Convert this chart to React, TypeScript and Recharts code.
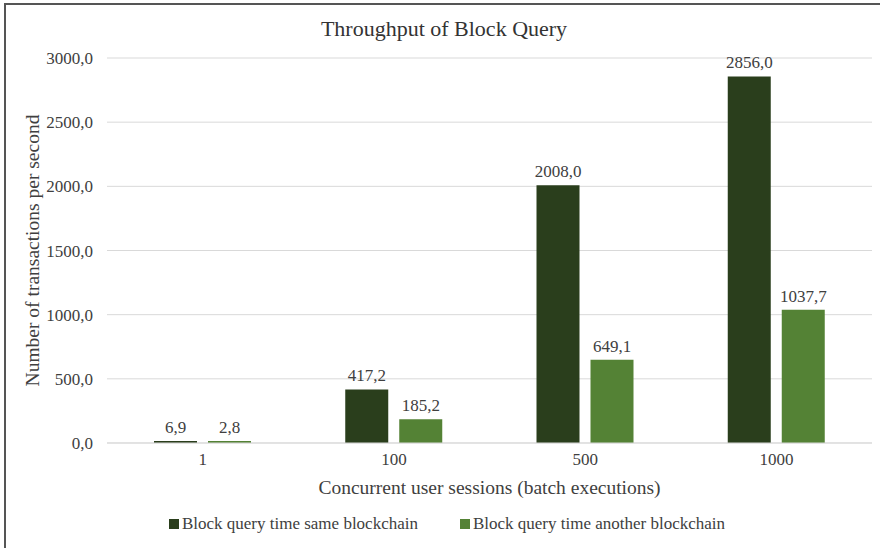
import { BarChart, Bar, XAxis, YAxis, CartesianGrid, Legend, LabelList } from "recharts";

const categories = ["1", "100", "500", "1000"];
const sameChain = [6.9, 417.2, 2008.0, 2856.0];
const anotherChain = [2.8, 185.2, 649.1, 1037.7];
const yTicks = [0, 500, 1000, 1500, 2000, 2500, 3000];

const seriesNames = ["Block query time same blockchain", "Block query time another blockchain"];
const colors = ["#2a3e1c", "#548235"];

const data = categories.map((c, i) => ({
  name: c,
  same: sameChain[i],
  another: anotherChain[i],
}));

const font = "Liberation Serif, Times New Roman, serif";
const textColor = "#404040";

const fmt = (v: number) => v.toFixed(1).replace(".", ",");

const LegendContent = () => (
  <div
    style={{
      display: "flex",
      justifyContent: "center",
      gap: 42,
      paddingLeft: 2,
      fontFamily: font,
      fontSize: 17,
      color: textColor,
    }}
  >
    {seriesNames.map((name, i) => (
      <div key={name} style={{ display: "flex", alignItems: "center", gap: 3 }}>
        <span style={{ width: 10, height: 10, background: colors[i], display: "inline-block" }} />
        <span>{name}</span>
      </div>
    ))}
  </div>
);

export default function App() {
  return (
    <div style={{ position: "absolute", left: 0, top: 0, width: 880, height: 548, overflow: "hidden", background: "#fff", fontFamily: font }}>
      <div
        style={{
          position: "absolute",
          left: 4,
          top: 3,
          width: 900,
          height: 600,
          border: "2px solid #555",
        }}
      />
      <div
        style={{
          position: "absolute",
          left: 0,
          width: 888,
          top: 16,
          textAlign: "center",
          fontFamily: font,
          fontSize: 22,
          color: "#333",
        }}
      >
        Throughput of Block Query
      </div>
      <div style={{ position: "absolute", left: 0, top: 0 }}>
        <BarChart
          width={880}
          height={548}
          data={data}
          margin={{ top: 58, right: 8, left: 20, bottom: 4 }}
          barSize={43}
          barGap={11}
          style={{ fontFamily: font }}
        >
          <CartesianGrid vertical={false} stroke="#d9d9d9" />
          <XAxis
            dataKey="name"
            height={71}
            axisLine={{ stroke: "#d9d9d9" }}
            tickLine={false}
            tickMargin={4}
            tick={{ fill: textColor, fontSize: 17, fontFamily: font }}
            label={{
              value: "Concurrent user sessions (batch executions)",
              position: "insideBottom",
              offset: 20,
              fill: textColor,
              fontSize: 19.5,
              fontFamily: font,
            }}
          />
          <YAxis
            width={87}
            domain={[0, 3000]}
            ticks={yTicks}
            axisLine={false}
            tickLine={false}
            tickMargin={8}
            tickFormatter={fmt}
            tick={{ fill: textColor, fontSize: 17, fontFamily: font }}
            label={{
              value: "Number of transactions per second",
              angle: -90,
              position: "insideLeft",
              offset: 12,
              style: { textAnchor: "middle" },
              fill: textColor,
              fontSize: 19.5,
              fontFamily: font,
            }}
          />
          <Legend verticalAlign="bottom" height={30} content={<LegendContent />} />
          <Bar dataKey="same" name={seriesNames[0]} fill={colors[0]} minPointSize={2} isAnimationActive={false}>
            <LabelList
              dataKey="same"
              position="top"
              offset={8}
              formatter={(v: number) => fmt(v)}
              style={{ fill: textColor, fontSize: 17, fontFamily: font }}
            />
          </Bar>
          <Bar dataKey="another" name={seriesNames[1]} fill={colors[1]} minPointSize={2} isAnimationActive={false}>
            <LabelList
              dataKey="another"
              position="top"
              offset={8}
              formatter={(v: number) => fmt(v)}
              style={{ fill: textColor, fontSize: 17, fontFamily: font }}
            />
          </Bar>
        </BarChart>
      </div>
    </div>
  );
}
